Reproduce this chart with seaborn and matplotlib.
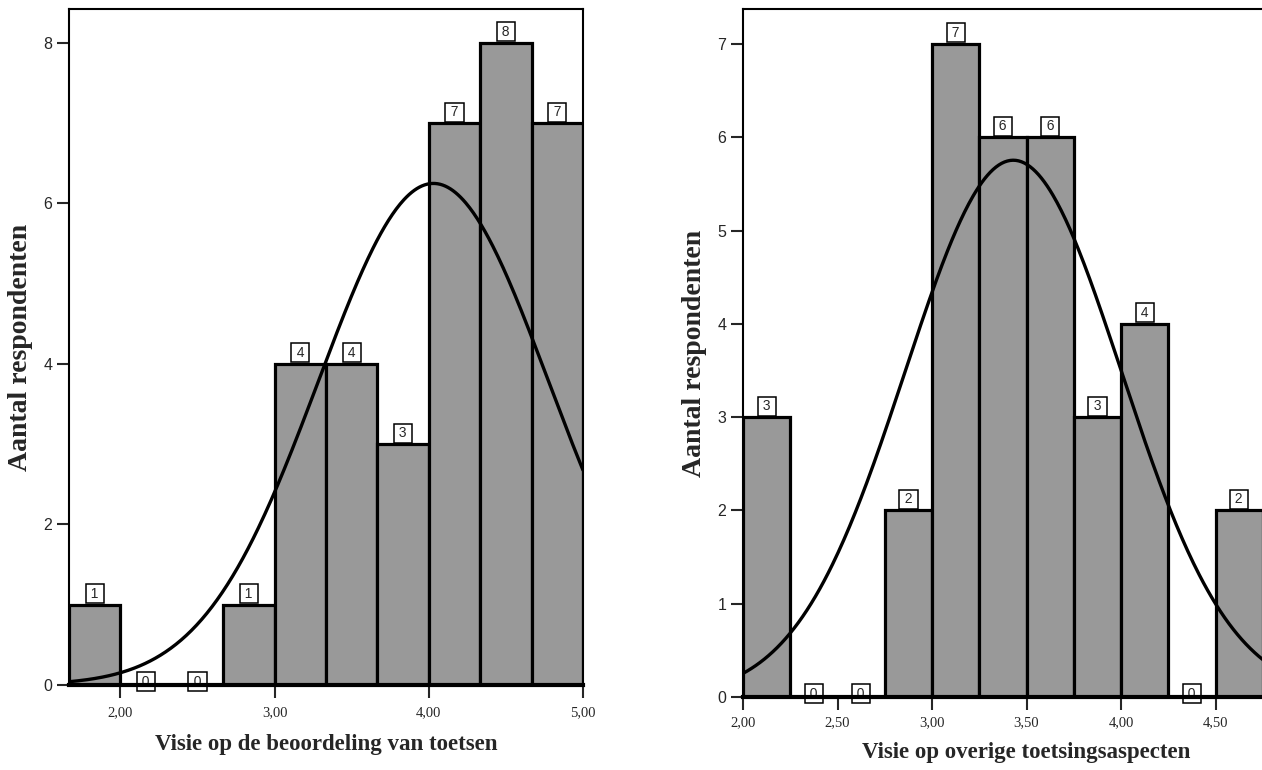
import seaborn as sns
import matplotlib.pyplot as plt
import numpy as np
import pandas as pd

# left histogram: Visie op de beoordeling van toetsen
left_edges = [5/3, 2.0, 7/3, 8/3, 3.0, 10/3, 11/3, 4.0, 13/3, 14/3, 5.0]
left_counts = [1, 0, 0, 1, 4, 4, 3, 7, 8, 7]
left_mean, left_sd = 4.03, 0.745
left_xticks = [2.0, 3.0, 4.0, 5.0]
left_xticklabels = ["2,00", "3,00", "4,00", "5,00"]
left_yticks = [0, 2, 4, 6, 8]

# right histogram: Visie op overige toetsingsaspecten
right_edges = [2.0, 2.25, 2.5, 2.75, 3.0, 3.25, 3.5, 3.75, 4.0, 4.25, 4.5, 4.75]
right_counts = [3, 0, 0, 2, 7, 6, 6, 3, 4, 0, 2]
right_mean, right_sd = 3.43, 0.572
right_xticks = [2.0, 2.5, 3.0, 3.5, 4.0, 4.5]
right_xticklabels = ["2,00", "2,50", "3,00", "3,50", "4,00", "4,50"]
right_yticks = [0, 1, 2, 3, 4, 5, 6, 7]

sns.set_style("white")
plt.rcParams["font.family"] = ["Liberation Sans", "DejaVu Sans"]

fig = plt.figure(figsize=(12.62, 7.7), dpi=100)
ax1 = fig.add_axes([69/1262, 85/770, 514/1262, 676/770])
ax2 = fig.add_axes([743/1262, 73/770, 3.0*189/1262, 688/770])


def draw(ax, edges, counts, mean, sd, xlim, ylim, xticks, xticklabels, yticks, xlabel,
         xpad, xlabelpad, ylab_x):
    counts = np.array(counts)
    centers = [(a + b) / 2 for a, b in zip(edges[:-1], edges[1:])]
    df = pd.DataFrame({"x": centers, "n": counts})
    sns.histplot(data=df, x="x", weights="n", bins=list(edges), color="#999999",
                 edgecolor="black", linewidth=2.3, alpha=1, ax=ax, zorder=2)
    # normal curve scaled to counts
    w = edges[1] - edges[0]
    xs = np.linspace(xlim[0], xlim[1], 400)
    ys = counts.sum() * w * np.exp(-0.5 * ((xs - mean) / sd) ** 2) / (sd * np.sqrt(2 * np.pi))
    sns.lineplot(x=xs, y=ys, color="black", linewidth=2.4, ax=ax, zorder=4)
    # count labels
    for c, n in zip(centers, counts):
        off = 4 if n > 0 else -3.5
        ax.annotate("\u2009" + str(n) + "\u2009", (c, n), xytext=(0, off),
                    textcoords="offset pixels", ha="center", va="bottom", fontsize=10,
                    zorder=1.5 if n == 0 else 5,
                    bbox=dict(boxstyle="square,pad=0.18", fc="white", ec="black", lw=1.1))
    ax.set_xlim(*xlim)
    ax.set_ylim(*ylim)
    ax.set_xticks(xticks)
    ax.set_xticklabels(xticklabels, family="Liberation Serif", fontsize=10.5)
    ax.set_yticks(yticks)
    ax.set_yticklabels([str(t) for t in yticks], fontsize=11.5)
    ax.tick_params(axis="both", direction="out", length=9, width=1.5,
                   left=True, bottom=True)
    ax.tick_params(axis="x", pad=xpad)
    ax.tick_params(axis="y", pad=3)
    ax.set_xlabel(xlabel, family="Liberation Serif", fontweight="bold", fontsize=16.5,
                  labelpad=xlabelpad)
    ax.set_ylabel("Aantal respondenten", family="Liberation Serif", fontweight="bold",
                  fontsize=20)
    ax.yaxis.set_label_coords(ylab_x, 0.5)
    for s in ["top", "right", "left"]:
        ax.spines[s].set_linewidth(1.5)
        ax.spines[s].set_color("black")
    ax.spines["bottom"].set_linewidth(3)
    ax.spines["bottom"].set_color("black")
    ax.spines["bottom"].set_zorder(4)


draw(ax1, left_edges, left_counts, left_mean, left_sd, (5/3, 5.0), (0, 8.42),
     left_xticks, left_xticklabels, left_yticks, "Visie op de beoordeling van toetsen",
     6, 11, (33 - 69) / 514)
draw(ax2, right_edges, right_counts, right_mean, right_sd, (2.0, 5.0), (0, 7.375),
     right_xticks, right_xticklabels, right_yticks, "Visie op overige toetsingsaspecten",
     5, 9, (707 - 743) / 567)

fig.savefig("out.png", dpi=100)
